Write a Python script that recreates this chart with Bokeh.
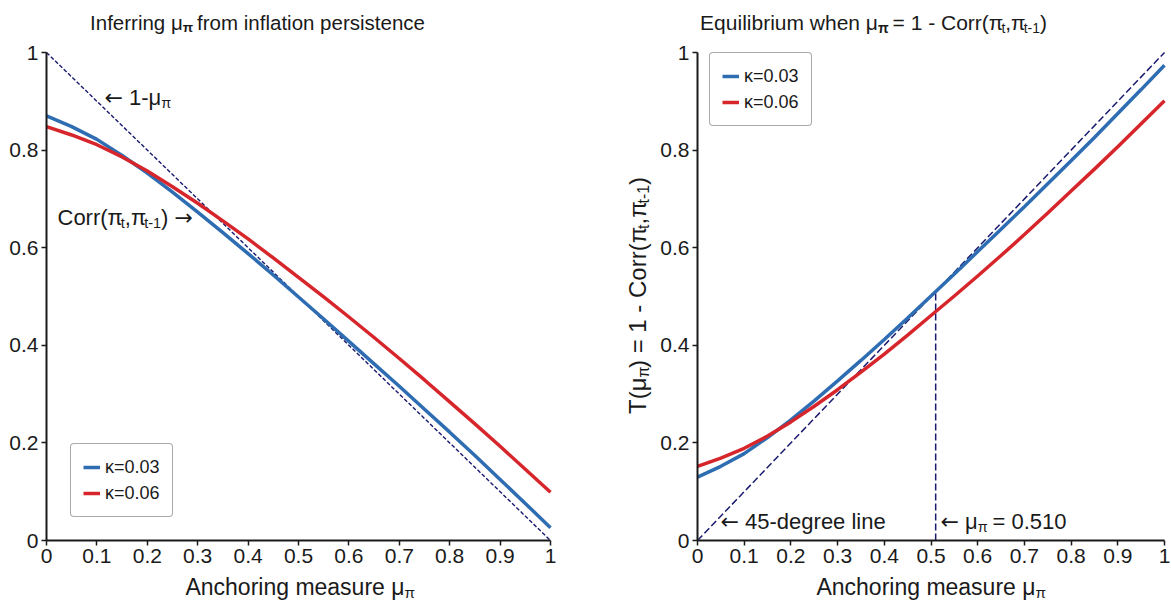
import math
from bokeh.plotting import figure
from bokeh.models import Range1d, Label, Legend, LegendItem, FixedTicker
from bokeh.layouts import row
from bokeh.embed import file_html
from bokeh.resources import INLINE

# ---------------- data ----------------
mu = [0.00, 0.05, 0.10, 0.15, 0.20, 0.25, 0.30, 0.35, 0.40, 0.45, 0.50,
      0.55, 0.60, 0.65, 0.70, 0.75, 0.80, 0.85, 0.90, 0.95, 1.00]
corr_k003 = [0.870, 0.848, 0.822, 0.789, 0.753, 0.714, 0.673, 0.631, 0.588, 0.544, 0.499,
             0.454, 0.408, 0.362, 0.316, 0.269, 0.222, 0.174, 0.125, 0.076, 0.026]
corr_k006 = [0.848, 0.831, 0.811, 0.786, 0.757, 0.725, 0.691, 0.655, 0.618, 0.579, 0.539,
             0.499, 0.458, 0.416, 0.373, 0.329, 0.284, 0.239, 0.193, 0.146, 0.099]
series_labels = ["κ=0.03", "κ=0.06"]
diag_x = [0.0, 1.0]
equilibrium_mu = 0.510
x_ticks = [0, 0.1, 0.2, 0.3, 0.4, 0.5, 0.6, 0.7, 0.8, 0.9, 1]
x_tick_labels = ["0", "0.1", "0.2", "0.3", "0.4", "0.5", "0.6", "0.7", "0.8", "0.9", "1"]
y_ticks = [0, 0.2, 0.4, 0.6, 0.8, 1]
y_tick_labels = ["0", "0.2", "0.4", "0.6", "0.8", "1"]

# T(mu) = 1 - Corr, as defined by the right panel's axis label
t_k003 = [1 - v for v in corr_k003]
t_k006 = [1 - v for v in corr_k006]

BLUE = "#2e6db2"
RED = "#d7262b"
NAVY = "#1a1a70"
INK = "#1a1a1a"
FONT = "Liberation Sans"
ARROW_FONT = "DejaVu Sans"
SUB = 0.66

W = {' ': 278, '(': 333, ')': 333, ',': 278, '-': 333, '.': 278, '=': 584,
     'A': 667, 'C': 722, 'E': 667, 'I': 278, 'T': 611,
     'a': 556, 'b': 556, 'c': 500, 'd': 556, 'e': 556, 'f': 278, 'g': 556, 'h': 556,
     'i': 222, 'l': 222, 'm': 833, 'n': 556, 'o': 556, 'p': 556, 'q': 556, 'r': 333,
     's': 500, 't': 278, 'u': 556, 'w': 722,
     'μ': 576, 'π': 600, 'κ': 520, '←': 838, '→': 838}
for d in "0123456789":
    W[d] = 556

PAGE_H = 602


def twidth(s, size, bold=False):
    return sum(W.get(c, 556) for c in s) / 1000.0 * size * (1.06 if bold else 1.0)


class Frame:
    """Page-pixel positions of data 0 and 1 on each axis, for one panel."""
    def __init__(self, offset, width, x0, x1, y0, y1):
        self.offset, self.width = offset, width
        self.x0, self.x1, self.y0, self.y1 = x0, x1, y0, y1

    def dx(self, px):
        return (px - self.x0) / (self.x1 - self.x0)

    def dy(self, py):
        return (self.y1 - py) / (self.y1 - self.y0)

    def x_range(self):
        return Range1d(self.dx(self.offset), self.dx(self.offset + self.width))

    def y_range(self):
        return Range1d(self.dy(PAGE_H), self.dy(0))


def make_fig(fr):
    p = figure(width=fr.width, height=PAGE_H, output_backend="svg", toolbar_location=None,
               x_range=fr.x_range(), y_range=fr.y_range(), min_border=0)
    p.outline_line_color = None
    p.background_fill_color = "white"
    p.border_fill_color = "white"
    p.xgrid.visible = False
    p.ygrid.visible = False
    for ax, ticks, labels in ((p.xaxis[0], x_ticks, x_tick_labels), (p.yaxis[0], y_ticks, y_tick_labels)):
        ax.fixed_location = 0
        ax.bounds = (0, 1)
        ax.ticker = FixedTicker(ticks=ticks)
        ax.major_label_overrides = dict(zip(ticks, labels))
        ax.axis_line_color = INK
        ax.axis_line_width = 2
        ax.major_tick_line_color = INK
        ax.major_tick_line_width = 1.5
        ax.major_tick_out = 5
        ax.major_tick_in = 0
        ax.minor_tick_line_color = None
        ax.major_label_text_font = FONT
        ax.major_label_text_font_size = "21px"
        ax.major_label_text_color = INK
        ax.major_label_standoff = 3
    return p


def rich(p, fr, x, y, segs, size, align="left", vertical=False):
    """segs: list of (text, is_sub, bold[, font]); x,y: page pixels of the start/centre
    of the text, y being the vertical middle of the normal-size text."""
    segs = [tuple(s) + (FONT,) if len(s) == 3 else tuple(s) for s in segs]
    sizes = [size * SUB if s else size for _, s, _, _ in segs]
    widths = [twidth(t, fs, b) for (t, s, b, _), fs in zip(segs, sizes)]
    total = sum(widths)
    if vertical:
        cur = y + total / 2 if align == "center" else y
    else:
        cur = x - total / 2 if align == "center" else x
    for (t, s, b, f), fs, w in zip(segs, sizes, widths):
        shift = 0.26 * size if s else 0
        lead = twidth(t[:len(t) - len(t.lstrip(' '))], fs)
        txt = t.strip(' ')
        if not vertical:
            lx, ly, ang = fr.dx(cur + lead), fr.dy(y + shift), 0
            cur += w
        else:
            lx, ly, ang = fr.dx(x + shift), fr.dy(cur - lead), math.pi / 2
            cur -= w
        p.add_layout(Label(x=lx, y=ly, text=txt, text_font=f,
                           text_font_size=f"{fs:.1f}px", text_color=INK,
                           text_font_style="bold" if b else "normal",
                           text_baseline="middle", text_align="left", angle=ang))


def legend_for(p, renderers, loc):
    kw = dict(location=loc, padding=12, spacing=4, margin=0,
              glyph_width=17, glyph_height=22, label_height=22, label_standoff=5,
              label_text_font=FONT, label_text_font_size="18px", label_text_color=INK,
              border_line_color="#555555", border_line_width=1,
              background_fill_color="white", background_fill_alpha=1)
    if "border_radius" in Legend.properties():
        kw["border_radius"] = 4
    leg = Legend(items=[LegendItem(label=lab, renderers=[r]) for lab, r in zip(series_labels, renderers)], **kw)
    p.add_layout(leg)


# ---------------- left panel ----------------
FL = Frame(0, 585, 46, 550, 52, 540)
left = make_fig(FL)
left.line(diag_x, [1 - v for v in diag_x], line_color=NAVY, line_width=1.4, line_dash="4 2")
rb = left.line(mu, corr_k003, line_color=BLUE, line_width=3.5)
rr = left.line(mu, corr_k006, line_color=RED, line_width=3.5)
legend_for(left, [rb, rr], (70, PAGE_H - 517))

rich(left, FL, 257, 22, [("Inferring μ", False, False), ("π", True, True),
                         (" from inflation persistence", False, False)], 20.5, align="center")
rich(left, FL, 299, 586, [("Anchoring measure μ", False, False), ("π", True, False)], 23, align="center")
rich(left, FL, 104, 97, [("←", False, False, ARROW_FONT), (" 1-μ", False, False), ("π", True, False)], 22)
rich(left, FL, 57, 217, [("Corr(π", False, False), ("t", True, False), (",π", False, False),
                         ("t-1", True, False), (") ", False, False), ("→", False, False, ARROW_FONT)], 22)

# ---------------- right panel ----------------
FR = Frame(585, 586, 697, 1164, 52, 540)
right = make_fig(FR)
right.line(diag_x, diag_x, line_color=NAVY, line_width=1.5, line_dash="7 3")
right.line([equilibrium_mu, equilibrium_mu], [0, equilibrium_mu], line_color=NAVY,
           line_width=1.5, line_dash="7 3")
rb2 = right.line(mu, t_k003, line_color=BLUE, line_width=3.5)
rr2 = right.line(mu, t_k006, line_color=RED, line_width=3.5)
legend_for(right, [rb2, rr2], (709 - 585, PAGE_H - 126))

rich(right, FR, 873, 22, [("Equilibrium when μ", False, False), ("π", True, True),
                          (" = 1 - Corr(π", False, False), ("t", True, False), (",π", False, False),
                          ("t-1", True, False), (")", False, False)], 21, align="center")
rich(right, FR, 930, 586, [("Anchoring measure μ", False, False), ("π", True, False)], 23, align="center")
rich(right, FR, 720, 521, [("←", False, False, ARROW_FONT), (" 45-degree line", False, False)], 22)
rich(right, FR, 940, 521, [("←", False, False, ARROW_FONT), (" μ", False, False), ("π", True, False),
                           (" = 0.510", False, False)], 22)
rich(right, FR, 637, 295, [("T(μ", False, False), ("π", True, False), (") = 1 - Corr(π", False, False),
                           ("t", True, False), (",π", False, False), ("t-1", True, False),
                           (")", False, False)], 24, align="center", vertical=True)

layout = row(left, right)
open("out.html", "w").write(file_html(layout, INLINE))
